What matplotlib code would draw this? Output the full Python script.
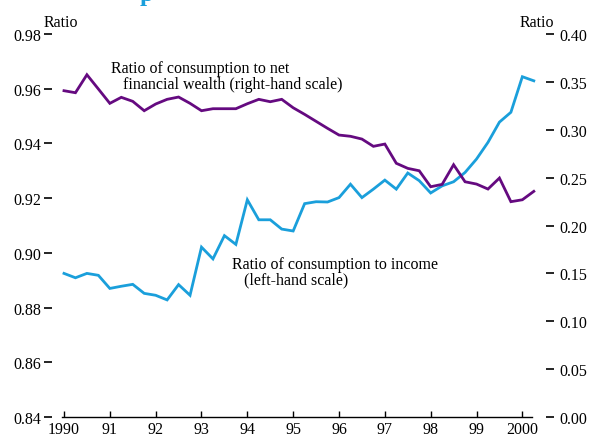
import numpy as np
import matplotlib.pyplot as plt

plt.rcParams['font.family'] = ['Liberation Serif', 'DejaVu Serif']

# quarterly, 1990:Q1 - 2000:Q2
years = 1990 + 0.25 * np.arange(42)

# ratio of consumption to income (left-hand scale)
cons_income = [
    0.8925, 0.8909, 0.8925, 0.8918, 0.8870, 0.8878, 0.8885, 0.8852,
    0.8845, 0.8828, 0.8884, 0.8845, 0.9021, 0.8978, 0.9063, 0.9031,
    0.9194, 0.9121, 0.9121, 0.9087, 0.9080, 0.9180, 0.9187, 0.9186,
    0.9202, 0.9251, 0.9202, 0.9233, 0.9266, 0.9233, 0.9292, 0.9264,
    0.9219, 0.9245, 0.9260, 0.9294, 0.9343, 0.9404, 0.9478, 0.9514,
    0.9644, 0.9629,
]

# ratio of consumption to net financial wealth (right-hand scale)
cons_wealth = [
    0.3408, 0.3387, 0.3575, 0.3426, 0.3276, 0.3339, 0.3297, 0.3199,
    0.3269, 0.3318, 0.3342, 0.3276, 0.3199, 0.3220, 0.3220, 0.3220,
    0.3272, 0.3318, 0.3293, 0.3318, 0.3230, 0.3161, 0.3088, 0.3015,
    0.2945, 0.2932, 0.2903, 0.2827, 0.2851, 0.2650, 0.2597, 0.2572,
    0.2405, 0.2430, 0.2635, 0.2457, 0.2433, 0.2381, 0.2496, 0.2249,
    0.2269, 0.2357,
]

year_ticks = np.arange(1990, 2001)
year_labels = ['1990', '91', '92', '93', '94', '95', '96', '97', '98', '99', '2000']
left_ticks = np.arange(0.84, 0.981, 0.02)
right_ticks = np.arange(0.0, 0.401, 0.05)

blue = '#1a9fdb'
purple = '#650a80'

fig = plt.figure(figsize=(5.91, 4.39), dpi=100)
ax = fig.add_axes([0.1044, 0.0478, 0.7965, 0.8724])
ax2 = ax.twinx()

ax.plot(years, cons_income, color=blue, lw=2.0, solid_joinstyle='miter', clip_on=False)
ax2.plot(years, cons_wealth, color=purple, lw=2.0, solid_joinstyle='miter', clip_on=False)

ax.set_xlim(1989.95, 2000.22)
ax.set_ylim(0.84, 0.98)
ax2.set_ylim(0.0, 0.40)

for a in (ax, ax2):
    for s in ('top', 'left', 'right', 'bottom'):
        a.spines[s].set_visible(False)
ax.spines['bottom'].set_visible(True)
ax.spines['bottom'].set_linewidth(1.0)

ax.spines['left'].set_position(('outward', 10))
ax2.spines['right'].set_position(('outward', 13))

ax.set_xticks(year_ticks)
ax.set_xticklabels(year_labels)
ax.tick_params(axis='x', direction='in', length=4, width=1.0, pad=3, labelsize=11.5)

ax.set_yticks(left_ticks)
ax.set_yticklabels([f'{v:.2f}' for v in left_ticks])
ax.tick_params(axis='y', direction='inout', length=5.5, width=1.2, pad=2, labelsize=11.5)

ax2.set_yticks(right_ticks)
ax2.set_yticklabels([f'{v:.2f}' for v in right_ticks])
ax2.tick_params(axis='y', direction='inout', length=5.5, width=1.2, pad=4, labelsize=11.5)

fig.text(44 / 591, 1 - 27 / 439, 'Ratio', fontsize=11.5, va='baseline', ha='left')
fig.text(554 / 591, 1 - 27 / 439, 'Ratio', fontsize=11.5, va='baseline', ha='right')

ax.text(1991.02, 0.9705, 'Ratio of consumption to net\n   financial wealth (right-hand scale)',
        fontsize=11.5, va='top', ha='left', linespacing=1.0)
ax.text(1993.67, 0.8990, 'Ratio of consumption to income\n   (left-hand scale)',
        fontsize=11.5, va='top', ha='left', linespacing=1.0)

# clipped fragment of the title above the chart
fig.text(140 / 591, 1 - 1 / 439, 'p', fontsize=18, fontweight='bold', color=blue,
         va='baseline', ha='left')

fig.savefig('out.png', dpi=100)
